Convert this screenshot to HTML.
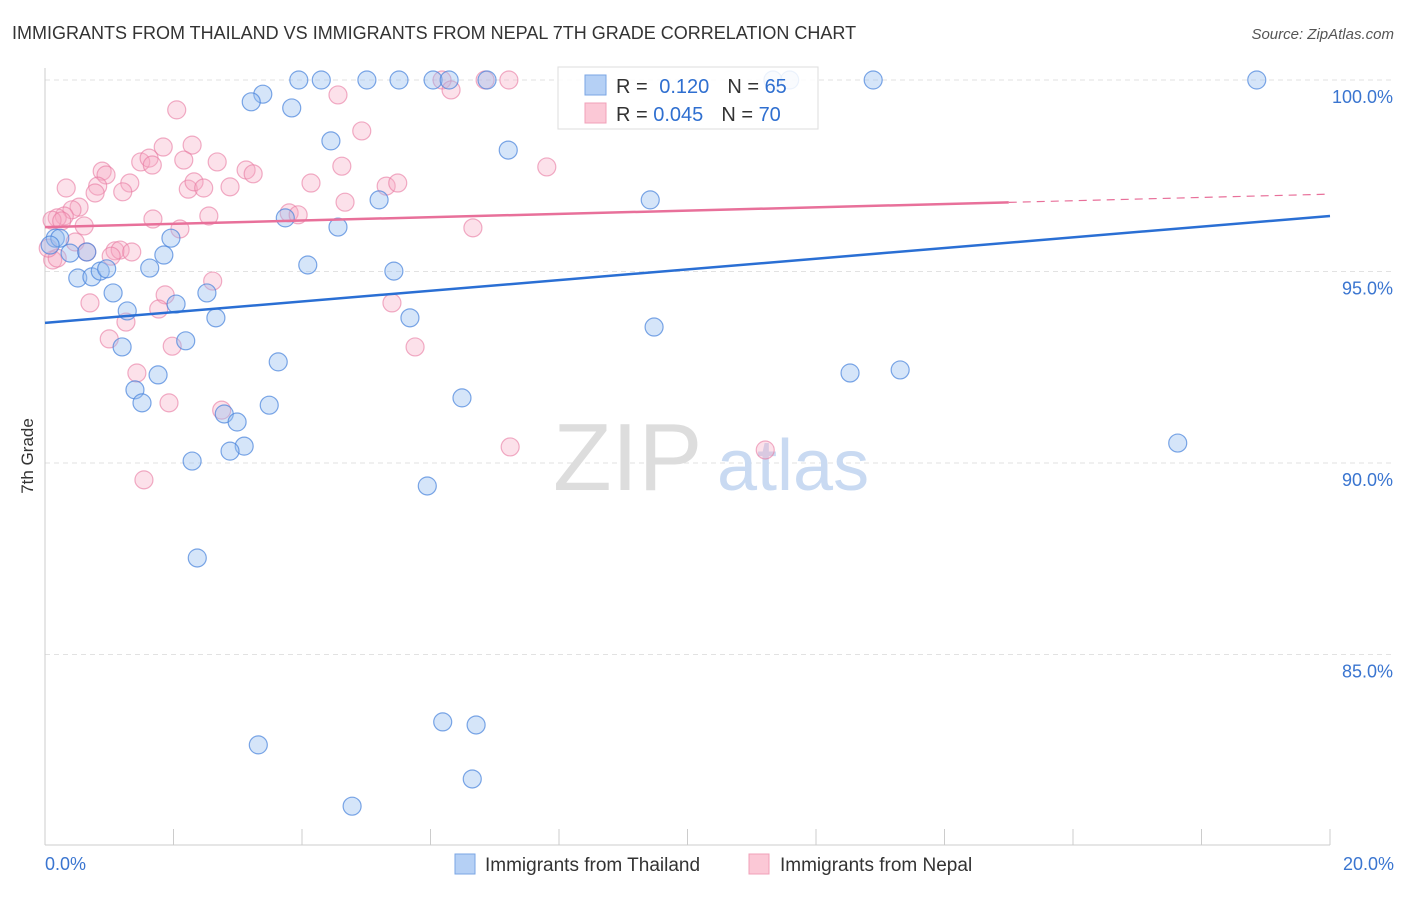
<!DOCTYPE html>
<html><head><meta charset="utf-8"><style>
body{margin:0;background:#fff;font-family:"Liberation Sans",sans-serif;}
svg text{font-family:"Liberation Sans",sans-serif;}
</style></head><body>
<svg id="chart" width="1406" height="892" xmlns="http://www.w3.org/2000/svg">
<text x="12" y="39" font-size="18" fill="#333">IMMIGRANTS FROM THAILAND VS IMMIGRANTS FROM NEPAL 7TH GRADE CORRELATION CHART</text>
<text x="1394" y="39" font-size="15" fill="#555" text-anchor="end" font-style="italic">Source: ZipAtlas.com</text>
<text transform="translate(33,456) rotate(-90)" font-size="17" fill="#333" text-anchor="middle">7th Grade</text>
<g id="grid"></g>
<text x="553" y="490" font-size="96" fill="#ddd" font-family="Liberation Serif">ZIP</text>
<text x="717" y="490" font-size="72" fill="#c9daf2">atlas</text>
<g id="pts"></g>
<g id="trend"></g>
<g>
<rect x="558" y="67" width="260" height="62" fill="#fff" fill-opacity="0.85" stroke="#ddd"/>
<rect x="585" y="75" width="21" height="20" fill="#b5d0f5" stroke="#7aa6e4"/>
<rect x="585" y="103" width="21" height="20" fill="#fbc8d6" stroke="#f0a0b8"/>
<text x="616" y="93" font-size="20" fill="#333">R = <tspan fill="#2f6fd0" dx="6">0.120</tspan><tspan dx="18" fill="#333">N = </tspan><tspan fill="#2f6fd0">65</tspan></text>
<text x="616" y="121" font-size="20" fill="#333">R = <tspan fill="#2f6fd0">0.045</tspan><tspan dx="18" fill="#333">N = </tspan><tspan fill="#2f6fd0">70</tspan></text>
</g>
<g>
<rect x="455" y="854" width="20" height="20" fill="#b5d0f5" stroke="#7aa6e4"/>
<text x="485" y="871" font-size="19" fill="#333">Immigrants from Thailand</text>
<rect x="749" y="854" width="20" height="20" fill="#fbc8d6" stroke="#f0a0b8"/>
<text x="780" y="871" font-size="19" fill="#333">Immigrants from Nepal</text>
</g>
</svg>
<script>
const xTicks=[0,2,4,6,8,10,12,14,16,18,20];
const yTicks=[100,95,90,85];
const yTickLabels=["100.0%","95.0%","90.0%","85.0%"];
const thaiX=[3.95,4.30,5.01,5.51,6.04,6.29,6.88,11.33,11.59,12.89,18.86,3.39,3.21,3.84,4.45,7.21,5.20,9.42,3.74,4.56,1.96,0.16,0.23,0.08,0.39,0.65,1.85,0.51,0.73,0.86,0.96,1.63,4.09,5.43,1.06,2.52,2.04,1.28,2.66,5.68,9.48,1.20,2.19,3.63,1.76,12.53,13.31,1.40,1.51,3.49,2.79,2.99,6.49,3.10,2.88,2.29,17.63,5.95,2.37,6.19,6.71,3.32,6.65,4.78];
const thaiY=[100,100,100,100,100,100,100,100,100,100,100,99.63,99.43,99.27,98.41,98.17,96.87,96.87,96.40,96.16,95.87,95.87,95.87,95.69,95.48,95.51,95.43,94.83,94.86,95.01,95.07,95.09,95.17,95.01,94.44,94.44,94.15,93.97,93.79,93.79,93.55,93.03,93.19,92.64,92.30,92.35,92.43,91.91,91.57,91.51,91.28,91.07,91.70,90.44,90.31,90.05,90.52,89.40,87.52,83.24,83.16,82.64,81.75,81.04];
const nepalX=[6.18,6.85,7.22,6.32,2.05,4.56,4.93,2.29,1.84,7.81,1.49,1.62,2.16,1.67,2.68,3.13,3.24,4.62,0.89,0.95,1.32,0.33,0.82,2.23,2.32,2.47,2.88,4.14,5.31,5.49,0.78,1.21,4.67,0.53,0.42,0.30,0.19,0.11,0.26,0.61,1.68,2.55,2.10,3.80,3.94,6.66,0.47,0.65,1.09,1.17,1.03,1.35,0.12,2.61,1.87,0.70,1.77,5.40,1.26,1.00,1.98,5.76,1.43,1.93,2.75,7.24,11.21,1.54,0.19,0.05];
const nepalY=[100,100,100,99.74,99.22,99.61,98.67,98.30,98.25,97.73,97.86,97.96,97.91,97.78,97.86,97.65,97.55,97.75,97.62,97.52,97.31,97.18,97.23,97.15,97.34,97.18,97.21,97.31,97.23,97.31,97.05,97.08,96.81,96.68,96.61,96.45,96.40,96.34,96.32,96.19,96.37,96.45,96.11,96.53,96.48,96.14,95.77,95.51,95.54,95.56,95.40,95.51,95.30,94.75,94.39,94.18,94.02,94.18,93.68,93.24,93.05,93.03,92.35,91.57,91.38,90.42,90.34,89.56,95.35,95.61];
const thaiTrend=[93.66,96.45];
const nepalTrend=[96.16,97.02];
const NS="http://www.w3.org/2000/svg";
const X=v=>45+v/20*1285;
const Y=v=>80+(100-v)/5*191.5;
function mk(tag,attrs,parent){const e=document.createElementNS(NS,tag);for(const k in attrs)e.setAttribute(k,attrs[k]);parent.appendChild(e);return e;}
const grid=document.getElementById('grid');
yTicks.forEach((t,i)=>{
 const l=mk('line',{x1:45,x2:1394,y1:Y(t),y2:Y(t),stroke:'#e2e2e2','stroke-dasharray':'5,4'},grid);
 
 
 const tx=mk('text',{x:1393,y:Y(t)+23,'font-size':18,fill:'#3a75d0','text-anchor':'end'},grid);
 tx.textContent=yTickLabels[i];
 
 
});
const ax=mk('line',{x1:45,x2:45,y1:68,y2:845,stroke:'#ccc'},grid);


const bx=mk('line',{x1:45,x2:1330,y1:845,y2:845,stroke:'#ccc'},grid);


xTicks.forEach(t=>{
 const l=mk('line',{x1:X(t),x2:X(t),y1:829,y2:845,stroke:'#ccc'},grid);
 
 
});
const xl0=mk('text',{x:45,y:870,'font-size':18,fill:'#3a75d0'},grid);xl0.textContent=xTicks[0].toFixed(1)+'%';


const xl1=mk('text',{x:1394,y:870,'font-size':18,fill:'#3a75d0','text-anchor':'end'},grid);xl1.textContent=xTicks[xTicks.length-1].toFixed(1)+'%';


const pts=document.getElementById('pts');
nepalX.forEach((v,i)=>{
 const c=mk('circle',{cx:X(v),cy:Y(nepalY[i]),r:9,fill:'rgba(245,170,195,0.35)',stroke:'rgba(232,120,160,0.6)','stroke-width':1.2},pts);
 
 
});
thaiX.forEach((v,i)=>{
 const c=mk('circle',{cx:X(v),cy:Y(thaiY[i]),r:9,fill:'rgba(150,190,240,0.4)',stroke:'rgba(70,130,220,0.7)','stroke-width':1.2},pts);
 
 
});
const tr=document.getElementById('trend');
const t1=mk('line',{x1:X(0),y1:Y(thaiTrend[0]),x2:X(20),y2:Y(thaiTrend[1]),stroke:'#2a6fd4','stroke-width':2.5},tr);


const ny=x=>nepalTrend[0]+(nepalTrend[1]-nepalTrend[0])*x/20;
const t2=mk('line',{x1:X(0),y1:Y(ny(0)),x2:X(15),y2:Y(ny(15)),stroke:'#e8709a','stroke-width':2.5},tr);


const t3=mk('line',{x1:X(15),y1:Y(ny(15)),x2:X(20),y2:Y(ny(20)),stroke:'#e8709a','stroke-width':1.2,'stroke-dasharray':'8,6'},tr);


</script>
</body></html>
